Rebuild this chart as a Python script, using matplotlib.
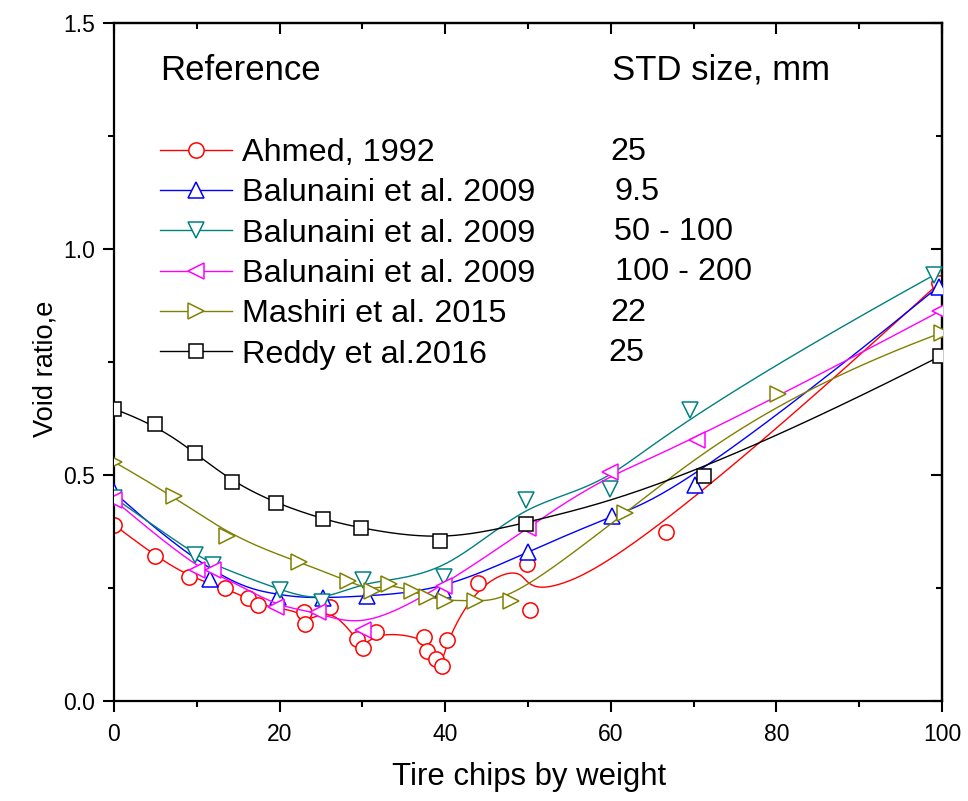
import numpy as np
import matplotlib
matplotlib.use("Agg")
import matplotlib.pyplot as plt
from matplotlib.lines import Line2D
from matplotlib.ticker import MultipleLocator, FormatStrFormatter

plt.rcParams['font.family'] = ['Liberation Sans', 'DejaVu Sans']

# ---------------- data ----------------
ahmed_x = [0, 5, 9, 13.4, 16.2, 17.4, 22.9, 23.1, 26.1, 29.3, 30.1, 31.7, 37.4, 37.8, 38.9, 39.6, 40.2, 44, 49.9, 50.2, 66.7, 99.6]
ahmed_y = [0.39, 0.32, 0.275, 0.249, 0.227, 0.212, 0.198, 0.171, 0.209, 0.137, 0.118, 0.153, 0.142, 0.111, 0.092, 0.078, 0.135, 0.262, 0.304, 0.201, 0.373, 0.924]

bal95_x = [0, 11.6, 19.8, 25.3, 30.5, 39.7, 50, 60.1, 70.2, 99.6]
bal95_y = [0.462, 0.271, 0.23, 0.228, 0.232, 0.245, 0.33, 0.41, 0.478, 0.917]

bal50_x = [0, 9.8, 12, 20, 25.1, 30.1, 39.8, 49.8, 59.9, 69.6, 99]
bal50_y = [0.45, 0.323, 0.301, 0.246, 0.218, 0.267, 0.275, 0.445, 0.47, 0.644, 0.942]

bal100_x = [0, 10, 12, 19.6, 24.6, 30.1, 39.8, 50, 59.9, 70.4, 99.8]
bal100_y = [0.445, 0.29, 0.29, 0.207, 0.198, 0.158, 0.255, 0.383, 0.507, 0.577, 0.863]

mash_x = [0, 7.2, 13.6, 22.3, 28.3, 31.1, 33.2, 36, 37.8, 40, 43.6, 48, 61.7, 80.2, 100]
mash_y = [0.529, 0.454, 0.366, 0.308, 0.265, 0.244, 0.259, 0.243, 0.231, 0.222, 0.222, 0.222, 0.415, 0.68, 0.815]

reddy_x = [0, 4.9, 9.8, 14.3, 19.6, 25.3, 29.8, 39.4, 49.8, 71.3, 99.8]
reddy_y = [0.646, 0.613, 0.549, 0.485, 0.437, 0.402, 0.382, 0.354, 0.391, 0.498, 0.763]

references = ["Ahmed, 1992", "Balunaini et al. 2009", "Balunaini et al. 2009",
              "Balunaini et al. 2009", "Mashiri et al. 2015", "Reddy et al.2016"]
sizes = ["25", "9.5", "50 - 100", "100 - 200", "22", "25"]
colors = ["#FF0000", "#0000FF", "#008080", "#FF00FF", "#808000", "#000000"]
markers = ["o", "^", "v", "<", ">", "s"]
msizes = [11, 11.5, 11.5, 11.5, 11.5, 9.5]
series = [(ahmed_x, ahmed_y), (bal95_x, bal95_y), (bal50_x, bal50_y),
          (bal100_x, bal100_y), (mash_x, mash_y), (reddy_x, reddy_y)]


def bspline(xs, ys, p=3, n=600):
    """Clamped uniform cubic B-spline using the data points as control points."""
    P = np.column_stack([xs, ys]).astype(float)
    m = len(P)
    p = min(p, m - 1)
    knots = np.array([0.0] * (p + 1) + list(range(1, m - p)) + [float(m - p)] * (p + 1))
    ts = np.linspace(0, m - p, n)
    out = []
    for t in ts:
        k = np.searchsorted(knots, t, side='right') - 1
        k = min(max(k, p), m - 1)
        d = [P[j + k - p].copy() for j in range(p + 1)]
        for r in range(1, p + 1):
            for j in range(p, r - 1, -1):
                den = knots[j + 1 + k - r] - knots[j + k - p]
                a = 0.0 if den == 0 else (t - knots[j + k - p]) / den
                d[j] = (1 - a) * d[j - 1] + a * d[j]
        out.append(d[p])
    out = np.array(out)
    return out[:, 0], out[:, 1]


W, H = 968, 801
fig = plt.figure(figsize=(W / 100, H / 100), dpi=100)
ax = fig.add_axes([114 / W, 1 - 701 / H, 828 / W, 678 / H])

handles = []
for i, ((xs, ys), c, mk, ms) in enumerate(zip(series, colors, markers, msizes)):
    sx, sy = bspline(xs, ys)
    ax.plot(sx, sy, color=c, lw=1.0, zorder=2 + i)
    ax.plot(xs, ys, ls='none', marker=mk, ms=ms, mfc='white', mec=c, mew=1.1, zorder=2 + i)
    handles.append(Line2D([], [], color=c, lw=1.0, marker=mk, ms=ms, mfc='white', mec=c, mew=1.1))

ax.set_xlim(0, 100)
ax.set_ylim(0, 1.5)
ax.xaxis.set_major_locator(MultipleLocator(20))
ax.xaxis.set_minor_locator(MultipleLocator(10))
ax.yaxis.set_major_locator(MultipleLocator(0.5))
ax.yaxis.set_minor_locator(MultipleLocator(0.25))
ax.yaxis.set_major_formatter(FormatStrFormatter('%.1f'))
ax.tick_params(which='both', direction='out', width=1.5, labelsize=16.5, top=False, right=False)
ax.tick_params(which='major', length=8)
ax.tick_params(which='minor', length=4)
ax.tick_params(axis='x', which='major', pad=8)
ax.tick_params(axis='y', which='major', pad=5.5)
for s in ax.spines.values():
    s.set_linewidth(1.6)

# inward ticks on top and right axes
axt = ax.secondary_xaxis('top')
axt.xaxis.set_major_locator(MultipleLocator(20))
axt.xaxis.set_minor_locator(MultipleLocator(10))
axt.tick_params(which='both', direction='in', width=1.5, labeltop=False)
axt.tick_params(which='major', length=8)
axt.tick_params(which='minor', length=4)
axr = ax.secondary_yaxis('right')
axr.yaxis.set_major_locator(MultipleLocator(0.5))
axr.yaxis.set_minor_locator(MultipleLocator(0.25))
axr.tick_params(which='both', direction='in', width=1.5, labelright=False)
axr.tick_params(which='major', length=8)
axr.tick_params(which='minor', length=4)
for sa in (axt, axr):
    for s in sa.spines.values():
        s.set_linewidth(1.6)

ax.set_xlabel("Tire chips by weight", fontsize=22.4)
ax.xaxis.set_label_coords((529 - 114) / 828, (701 - 762) / 678)
ax.set_ylabel("Void ratio,e", fontsize=19.6)
ax.yaxis.set_label_coords((58 - 114) / 828, (701 - 369) / 678)

leg = ax.legend(handles, references, loc='upper left',
                bbox_to_anchor=(160 / W, 1 - 138 / H), bbox_transform=fig.transFigure,
                frameon=False, fontsize=23.3, handlelength=2.22, handletextpad=0.31,
                borderpad=0, borderaxespad=0, labelspacing=0.32)

fig.text(160 / W, 1 - 70 / H, "Reference", fontsize=25, va='center', ha='left')
fig.text(612 / W, 1 - 70 / H, "STD size, mm", fontsize=25, va='center', ha='left')
row_y = [152, 192, 232, 272, 313, 353]
row_x = [610, 614, 614, 615, 610, 608]
for t, xx, yy in zip(sizes, row_x, row_y):
    fig.text(xx / W, 1 - yy / H, t, fontsize=23.3, va='center', ha='left')

fig.savefig("out.png", dpi=100)
